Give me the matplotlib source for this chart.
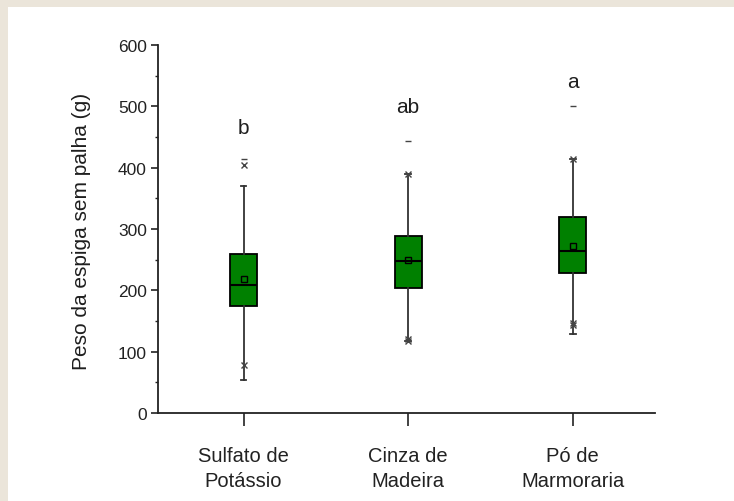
import matplotlib
matplotlib.use("Agg")
import matplotlib.pyplot as plt
from matplotlib.patches import Rectangle
from matplotlib.ticker import MultipleLocator

plt.rcParams['font.family'] = ['Liberation Sans', 'DejaVu Sans']

categories = ["Sulfato de\nPotássio", "Cinza de\nMadeira", "Pó de\nMarmoraria"]
q1 = [174, 203, 229]
median = [209, 248, 264]
q3 = [259, 289, 320]
mean = [218, 250, 272]
whisker_lo = [54, 117, 129]
whisker_hi = [370, 389, 414]
x_markers = [[79, 405], [117, 120, 389], [143, 147, 414]]
dash_markers = [[414], [444], [500]]
letters = ["b", "ab", "a"]
letter_y = [466, 499, 540]

fig = plt.figure(figsize=(7.34, 5.02), dpi=100)
fig.patch.set_facecolor("#ebe5da")
bg = Rectangle((8/734, 0), 1 - 8/734, (502-8)/502,
               transform=fig.transFigure, facecolor="white",
               edgecolor="none", zorder=-10)
fig.add_artist(bg)

ax = fig.add_axes([158/734, 88/502, 497/734, 368/502])
ax.set_facecolor("none")
ax.set_zorder(5)

stats = []
for i in range(3):
    stats.append(dict(q1=q1[i], med=median[i], q3=q3[i], mean=mean[i],
                      whislo=whisker_lo[i], whishi=whisker_hi[i],
                      fliers=x_markers[i], label=categories[i]))

pos = [1, 2, 3]
ax.bxp(stats, positions=pos, widths=0.165, patch_artist=True,
       showmeans=True, showcaps=True,
       boxprops=dict(facecolor="#008000", edgecolor="black", linewidth=1.3),
       medianprops=dict(color="black", linewidth=1.5),
       whiskerprops=dict(color="#333333", linewidth=1.3),
       capprops=dict(color="#333333", linewidth=1.3),
       capwidths=0.035,
       meanprops=dict(marker="s", markerfacecolor="none", markeredgecolor="black",
                      markersize=4, markeredgewidth=1.0),
       flierprops=dict(marker="x", markeredgecolor="#444444", markersize=4,
                       markeredgewidth=1.0))

for i in range(3):
    ax.plot([pos[i]] * len(dash_markers[i]), dash_markers[i], linestyle="none",
            marker="_", color="#444444", markersize=5, markeredgewidth=1.0)
    ax.text(pos[i], letter_y[i], letters[i], ha="center", va="center",
            fontsize=15, color="#1e1e1e")

ax.set_xlim(0.48, 3.5)
ax.set_ylim(0, 600)
ax.yaxis.set_major_locator(MultipleLocator(100))
ax.yaxis.set_minor_locator(MultipleLocator(50))
ax.set_xticks(pos)
ax.set_xticklabels(categories, fontsize=14.5, linespacing=1.35, color="#1e1e1e")

for s in ["top", "right"]:
    ax.spines[s].set_visible(False)
for s in ["left", "bottom"]:
    ax.spines[s].set_linewidth(1.3)
    ax.spines[s].set_color("#222222")

ax.tick_params(axis="y", which="major", direction="out", length=5, width=1.2,
               labelsize=12.5, pad=3, colors="#222222")
ax.tick_params(axis="y", which="minor", direction="out", length=2.5, width=1.0,
               colors="#222222")
ax.tick_params(axis="x", which="major", direction="out", length=9, width=1.2,
               pad=15, colors="#222222")

ax.set_ylabel("Peso da espiga sem palha (g)", fontsize=15, color="#1e1e1e")
ax.yaxis.set_label_coords(-0.135, 0.495)

fig.savefig("out.png", dpi=100, facecolor=fig.get_facecolor())
